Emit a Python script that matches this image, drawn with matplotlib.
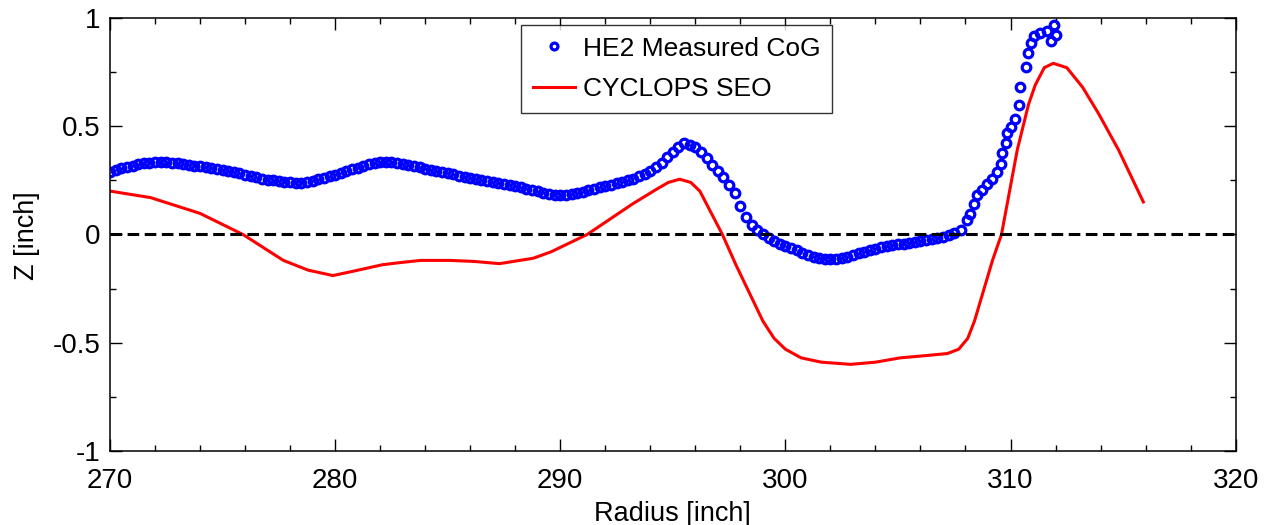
import numpy as np
import matplotlib
matplotlib.use("Agg")
import matplotlib.pyplot as plt
from matplotlib.ticker import MultipleLocator

# measured CoG: regular 0.25 inch sampling up to 307.25, then the steep rise
cog_r_flat = np.arange(270.0, 307.5, 0.25)
cog_z_flat = [
    0.288, 0.298, 0.305, 0.312, 0.318, 0.324, 0.329, 0.332, 0.334, 0.333,
    0.334, 0.331, 0.330, 0.326, 0.322, 0.318, 0.314, 0.311, 0.306, 0.302,
    0.297, 0.292, 0.287, 0.285, 0.274, 0.268, 0.263, 0.258, 0.253, 0.249,
    0.245, 0.242, 0.240, 0.238, 0.238, 0.241, 0.248, 0.256, 0.262, 0.270,
    0.276, 0.283, 0.291, 0.300, 0.308, 0.316, 0.324, 0.331, 0.335, 0.333,
    0.334, 0.330, 0.325, 0.321, 0.315, 0.309, 0.304, 0.299, 0.294, 0.289,
    0.284, 0.278, 0.272, 0.267, 0.262, 0.258, 0.252, 0.246, 0.241, 0.237,
    0.232, 0.227, 0.222, 0.217, 0.211, 0.205, 0.199, 0.193, 0.187, 0.182,
    0.180, 0.183, 0.186, 0.192, 0.197, 0.203, 0.211, 0.218, 0.224, 0.230,
    0.236, 0.241, 0.250, 0.258, 0.268, 0.280, 0.294, 0.310, 0.330, 0.356,
    0.380, 0.404, 0.420, 0.412, 0.405, 0.382, 0.352, 0.322, 0.295, 0.265,
    0.230, 0.190, 0.130, 0.080, 0.045, 0.019, 0.002, -0.015, -0.030, -0.042,
    -0.052, -0.063, -0.074, -0.085, -0.095, -0.104, -0.110, -0.114, -0.115, -0.114,
    -0.111, -0.103, -0.095, -0.087, -0.079, -0.072, -0.066, -0.060, -0.054, -0.050,
    -0.046, -0.042, -0.038, -0.034, -0.030, -0.026, -0.021, -0.016, -0.010, -0.005,
]
cog_r_rise = [307.50, 307.78, 308.07, 308.22, 308.37, 308.52, 308.74, 308.96,
              309.19, 309.41, 309.56, 309.63, 309.78, 309.85, 310.00, 310.22,
              310.37, 310.44, 310.67, 310.77, 310.89, 311.04, 311.33, 311.63,
              311.78, 312.00, 311.93]
cog_z_rise = [0.005, 0.020, 0.065, 0.096, 0.140, 0.180, 0.204, 0.235,
              0.258, 0.289, 0.327, 0.374, 0.420, 0.466, 0.497, 0.535,
              0.597, 0.682, 0.775, 0.837, 0.883, 0.914, 0.929, 0.937,
              0.891, 0.921, 0.968]

# CYCLOPS SEO prediction
seo_r = [270.0, 271.8, 274.0, 275.9, 276.8, 277.7, 278.8, 279.9, 280.8, 282.1,
         282.9, 283.8, 285.1, 286.2, 287.3, 288.8, 289.6, 290.4, 291.2, 292.2,
         293.2, 294.3, 294.8, 295.3, 295.8, 296.2, 296.5, 297.2, 297.8, 298.4,
         299.0, 299.5, 300.0, 300.7, 301.6, 302.9, 304.0, 305.1, 306.2, 307.2,
         307.7, 308.1, 308.4, 308.8, 309.2, 309.6, 310.3, 310.8, 311.1, 311.5,
         311.9, 312.5, 313.2, 313.9, 314.8, 315.9]
seo_z = [0.20, 0.17, 0.097, 0.0, -0.06, -0.12, -0.165, -0.19, -0.17, -0.14,
         -0.13, -0.12, -0.12, -0.125, -0.135, -0.11, -0.08, -0.04, 0.0, 0.07,
         0.14, 0.21, 0.24, 0.255, 0.24, 0.20, 0.14, 0.0, -0.14, -0.27,
         -0.40, -0.48, -0.53, -0.57, -0.59, -0.60, -0.59, -0.57, -0.56, -0.55,
         -0.53, -0.48, -0.40, -0.26, -0.12, 0.0, 0.39, 0.60, 0.69, 0.77,
         0.79, 0.77, 0.68, 0.56, 0.39, 0.15]

cog_r = np.concatenate([cog_r_flat, cog_r_rise])
cog_z = np.concatenate([cog_z_flat, cog_z_rise])

plt.rcParams["font.family"] = ["Liberation Sans", "DejaVu Sans"]

fig = plt.figure(figsize=(12.69, 5.25), dpi=100)
ax = fig.add_axes([0.0867, 0.141, 0.887, 0.825])

ax.plot(cog_r, cog_z, "o", mfc="none", mec="blue", ms=6.2, mew=2.3,
        label="HE2 Measured CoG")
ax.plot(seo_r, seo_z, "-", color="red", lw=2.2, label="CYCLOPS SEO")
ax.axhline(0, color="black", ls=(0, (3.8, 1.8)), lw=2.2)

ax.set_xlim(270, 320)
ax.set_ylim(-1, 1)
ax.xaxis.set_major_locator(MultipleLocator(10))
ax.xaxis.set_minor_locator(MultipleLocator(2))
ax.yaxis.set_major_locator(MultipleLocator(0.5))
ax.yaxis.set_minor_locator(MultipleLocator(0.25))
ax.yaxis.set_major_formatter(plt.FuncFormatter(lambda v, p: f"{v:g}"))

ax.tick_params(which="both", direction="in", top=True, right=True,
               labelsize=20, width=1)
ax.tick_params(which="major", length=8.5)
ax.tick_params(which="minor", length=4.5)
ax.tick_params(axis="x", pad=12)
ax.tick_params(axis="y", pad=7)
for s in ax.spines.values():
    s.set_linewidth(1.1)

ax.set_xlabel("Radius [inch]", fontsize=19.5)
ax.xaxis.set_label_coords(0.5, -0.115)
ax.set_ylabel("Z [inch]", fontsize=19.5)
ax.yaxis.set_label_coords(-0.062, 0.497)

leg = ax.legend(loc="upper left", bbox_to_anchor=(0.365, 0.984),
                borderaxespad=0, fontsize=19, frameon=True, fancybox=False,
                handlelength=1.6, borderpad=0.45, labelspacing=0.62,
                handletextpad=0.3, markerscale=0.8)
leg.get_frame().set_edgecolor("black")
leg.get_frame().set_linewidth(1)

fig.savefig("out.png", dpi=100)
